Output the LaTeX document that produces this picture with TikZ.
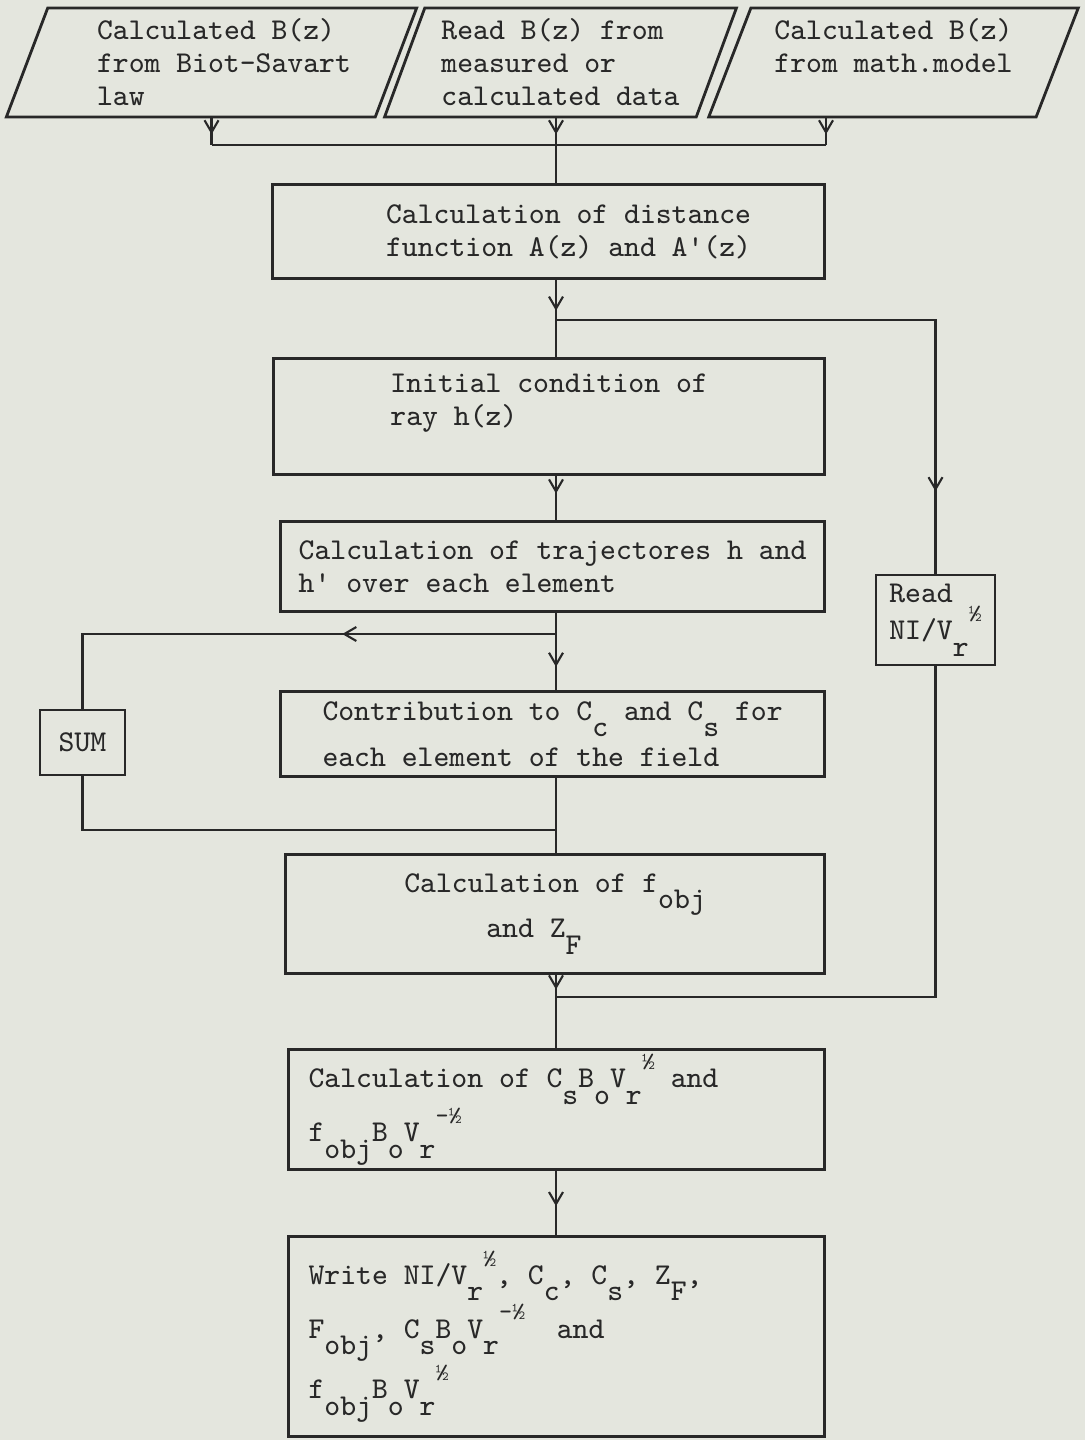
\documentclass[tikz,border=0pt]{standalone}
\usepackage{tikz}
\usetikzlibrary{arrows.meta,positioning,shapes.geometric,decorations.markings}

\definecolor{paper}{RGB}{228,230,222}
\definecolor{ink}{RGB}{40,40,40}

% typewriter style sub- and superscripts
\newcommand{\tsub}[1]{\raisebox{-0.55em}{#1}}
\newcommand{\thalf}{\raisebox{0.6em}{\fontsize{7}{7}\selectfont ½}}
\newcommand{\tmhalf}{\raisebox{0.6em}{\fontsize{7}{7}\selectfont -½}}

\begin{document}
\begin{tikzpicture}[
    font=\ttfamily\fontsize{8.6}{9.4}\selectfont,
    every node/.style={text=ink},
    box/.style={draw=ink, line width=0.8pt, rectangle, align=left, inner sep=1pt},
    inbox/.style={draw=ink, line width=0.8pt, trapezium, trapezium left angle=68,
                  trapezium right angle=112, trapezium stretches=true,
                  minimum height=1.09cm, align=left, inner sep=0pt},
    wire/.style={draw=ink, line width=0.6pt},
    midarrow/.style={postaction={decorate}, decoration={markings,
                  mark=at position #1 with {\arrow{Straight Barb[length=1.2mm,width=1.4mm]}}}},
    midarrow/.default=0.5
]
\fill[paper] (0,0) rectangle (10.85,-14.40);
\useasboundingbox (0,0) rectangle (10.85,-14.40);

% input data
\node[inbox, minimum width=4.13cm] (bs)   at (2.115,-0.625) {\hspace*{0.25cm}Calculated B(z)\\\hspace*{0.25cm}from Biot-Savart\\\hspace*{0.25cm}law};
\node[inbox, minimum width=3.55cm] (meas) at (5.605,-0.625) {Read B(z) from\\measured or\\calculated data};
\node[inbox, minimum width=3.73cm] (math) at (8.935,-0.625) {Calculated B(z)\\from math.model\\\mbox{}};

% main column
\node[box, minimum width=5.52cm, minimum height=0.94cm, anchor=north east] (dist) at (8.26,-1.83)
    {\hspace*{0.4cm}Calculation of distance\\\hspace*{0.4cm}function A(z) and A\textquotesingle(z)};
\node[box, minimum width=5.51cm, minimum height=1.16cm, anchor=north east] (init) at (8.26,-3.57)
    {Initial condition of\\ray h(z)\\\mbox{}};
\node[box, minimum width=5.44cm, minimum height=0.90cm, anchor=north east] (traj) at (8.26,-5.20)
    {Calculation of trajectores h and\\h\textquotesingle{} over each element};
\node[box, minimum width=5.44cm, minimum height=0.85cm, anchor=north east] (contr) at (8.26,-6.90)
    {Contribution to C\tsub{c} and C\tsub{s} for\\[2pt]each element of the field};
\node[box, minimum width=5.39cm, minimum height=1.19cm, anchor=north east] (fobj) at (8.26,-8.53)
    {Calculation of f\tsub{obj}\\\hspace*{0.82cm}and Z\tsub{F}};
\node[box, inner xsep=0.2cm, minimum height=1.20cm, anchor=north east] (norm) at (8.26,-10.48)
    {\makebox[4.96cm][l]{Calculation of C\tsub{s}B\tsub{o}V\tsub{r}\thalf{} and}\\f\tsub{obj}B\tsub{o}V\tsub{r}\tmhalf};
\node[box, inner xsep=0.2cm, minimum height=2.00cm, anchor=north east] (out) at (8.26,-12.35)
    {\makebox[4.96cm][l]{Write NI/V\tsub{r}\thalf, C\tsub{c}, C\tsub{s}, Z\tsub{F},}\\F\tsub{obj}, C\tsub{s}B\tsub{o}V\tsub{r}\tmhalf{}\ \ and\\f\tsub{obj}B\tsub{o}V\tsub{r}\thalf};

% side boxes
\node[box, minimum width=0.85cm, minimum height=0.65cm] (sum)  at (0.825,-7.425) {SUM};
\node[box, minimum width=1.19cm, minimum height=0.90cm] (read) at (9.355,-6.20) {Read\\NI/V\tsub{r}\thalf};

% junctions on the main line
\coordinate (join)  at (5.56,-1.45);
\coordinate (fork)  at (5.56,-3.20);
\coordinate (split) at (5.56,-6.34);
\coordinate (merge) at (5.56,-8.30);
\coordinate (back)  at (5.56,-9.97);

\draw[wire, midarrow=0.6] (bs.south) -- (bs.south |- join);
\draw[wire, midarrow=0.6] (meas.south -| join) -- (join);
\draw[wire, midarrow=0.6] (math.south -| dist.east) -- (join -| dist.east);
\draw[wire] (bs.south |- join) -- (join -| dist.east);
\draw[wire] (join) -- (dist.north -| join);

\draw[wire, midarrow=0.4] (dist.south -| fork) -- (init.north -| fork);
\draw[wire, midarrow=0.87] (fork) -| (read.north);
\draw[wire, midarrow=0.4] (init.south -| fork) -- (traj.north -| fork);
\draw[wire, midarrow=0.7] (traj.south -| split) -- (contr.north -| split);
\draw[wire, midarrow=0.39] (split) -| (sum.north);
\draw[wire] (sum.south) |- (merge);
\draw[wire] (contr.south -| merge) -- (fobj.north -| merge);
\draw[wire, midarrow=0.2] (fobj.south -| back) -- (norm.north -| back);
\draw[wire] (read.south) |- (back);
\draw[wire, midarrow=0.55] (norm.south -| back) -- (out.north -| back);
\end{tikzpicture}
\end{document}
